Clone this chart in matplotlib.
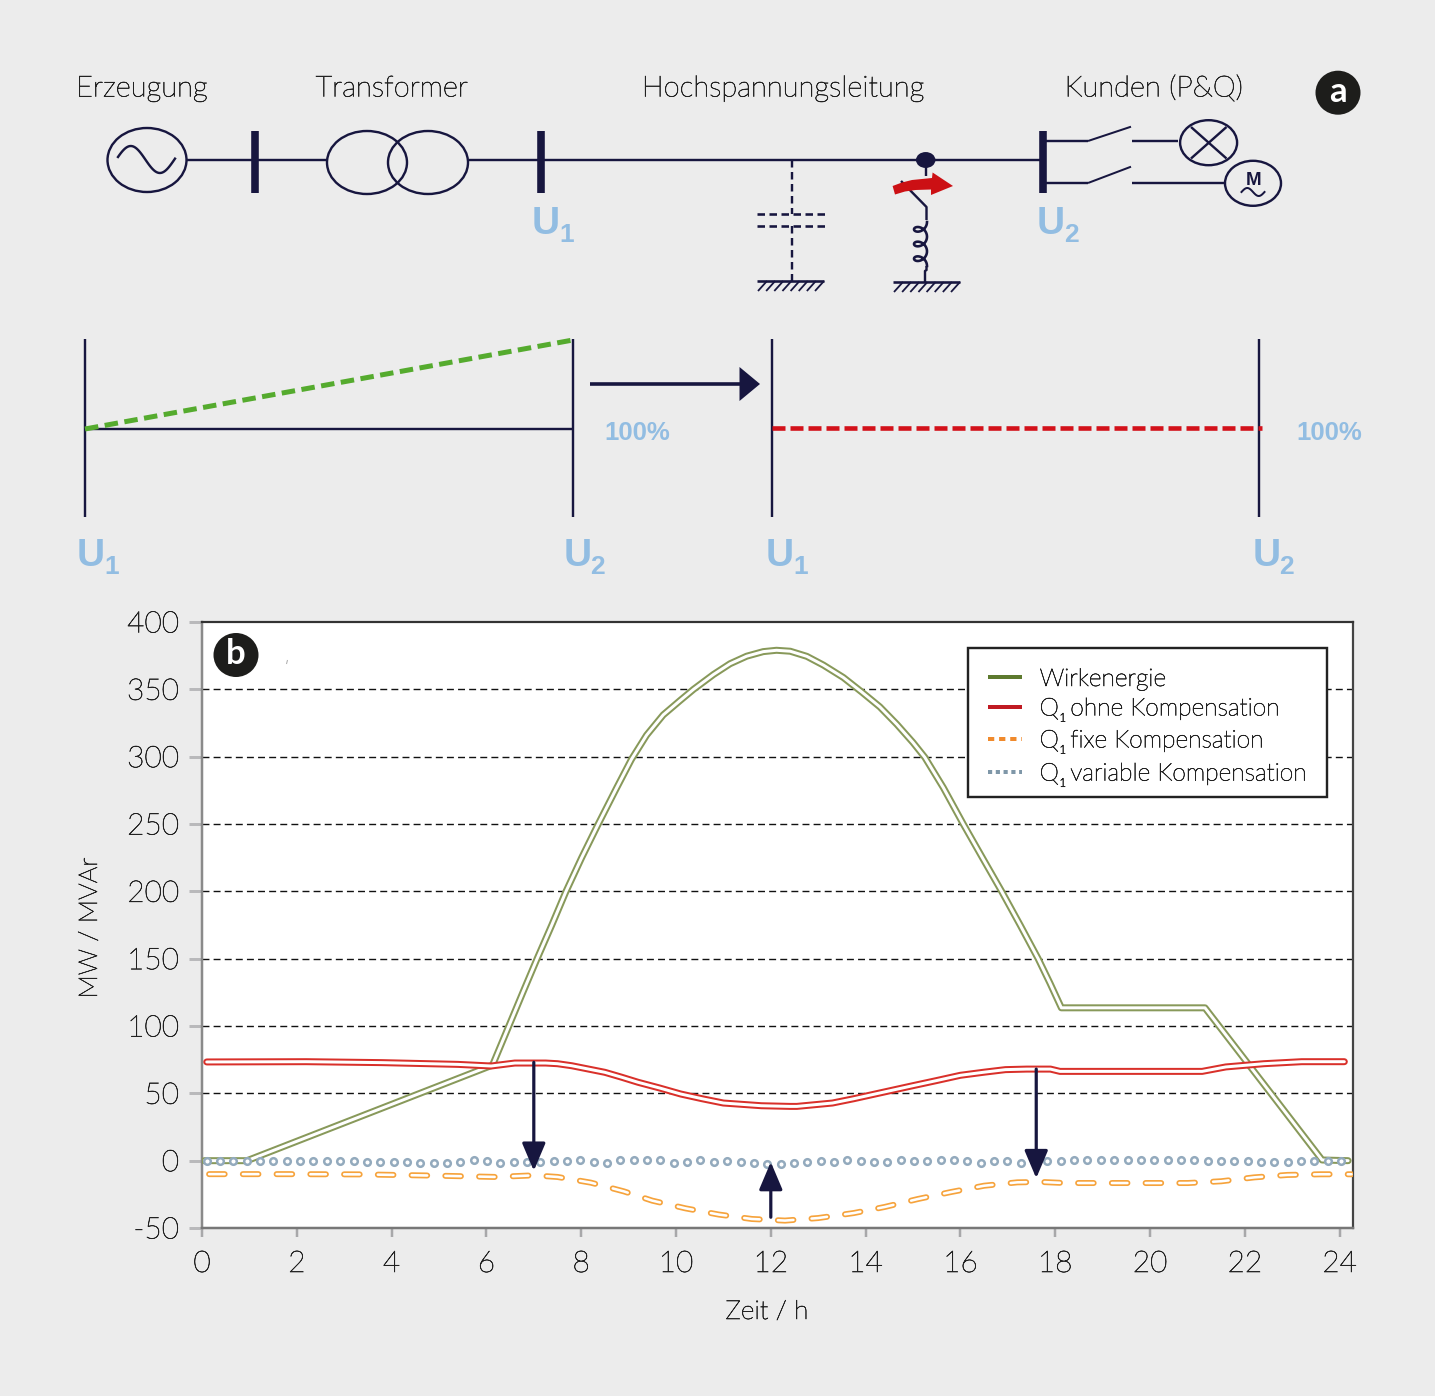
import numpy as np
from matplotlib import pyplot as plt
from matplotlib import patheffects
from matplotlib.lines import Line2D
from matplotlib.patches import Ellipse, Polygon, Rectangle
from matplotlib.text import Text

plt.rcParams['font.family'] = ['Lato', 'DejaVu Sans']
plt.rcParams['font.weight'] = 'light'
plt.rcParams['axes.labelweight'] = 'light'
plt.rcParams['axes.unicode_minus'] = False
plt.rcParams['mathtext.default'] = 'regular'
plt.rcParams['lines.scale_dashes'] = False

# chart data
green_h = [0.05, 0.95, 6.13, 6.45, 6.77, 7.07, 7.38, 7.68, 8.01, 8.36, 8.75, 9.06, 9.38, 9.73, 10.08, 10.37, 10.79,
           11.14, 11.49, 11.84, 12.12, 12.41, 12.76, 13.11, 13.53, 13.92, 14.3, 14.66, 15.0, 15.25, 15.64, 16.06,
           16.48, 16.87, 17.26, 17.64, 17.89, 18.13, 21.16, 22.55, 23.63, 24.18]
green_val = [0, 0, 71, 98, 125, 150, 175, 200, 225, 250, 277, 298, 316, 331, 341.5, 350, 361,
             369, 374.6, 378, 379, 378.3, 374.5, 368, 358.8, 348, 337, 324, 310.5, 299.5, 277, 250,
             224, 200, 175, 150, 131.8, 113.5, 113.5, 50, 0.5, 0]

red_h = [0.1, 2.2, 3.8, 5.4, 6.1, 6.6, 7.25, 7.5, 7.8, 8.5, 8.85, 9.2, 9.65, 10.1, 10.55, 11, 11.4, 11.8, 12.4, 12.55,
         13.3, 13.75, 14.2, 14.6, 15, 15.5, 16, 16.5, 16.95, 17.4, 17.9, 18.1, 21.1, 21.6, 22.4, 23.2, 24.1]
red_val = [73.3, 73.5, 72.8, 71.5, 70.3, 72.5, 72.5, 72, 70.5, 65.6, 62, 58.2, 54, 49.5, 46, 42.8, 41.8, 40.8, 40.3,
           40.3, 42.8, 46, 49.5, 52.6, 55.7, 59.5, 63.4, 65.7, 67.6, 68, 68, 66.3, 66.3, 69.6, 72, 73.5, 73.5]

orange_h = [0.15, 1.8, 3.4, 4.9, 6.2, 7.0, 7.5, 8.2, 8.9, 9.5, 10.2, 10.9, 11.6, 12.3, 13.0, 13.75, 14.4, 15.1,
            15.8, 16.5, 17.2, 17.7, 18.2, 20.8, 21.5, 22.2, 22.9, 23.6, 24.25]
orange_val = [-10, -10, -10.2, -11.1, -12.1, -10.9, -12.1, -16.3, -22.8, -29.7, -35.4, -40, -43.3, -44.5, -42.6,
              -38.9, -34.4, -28.5, -23.3, -18.6, -16.1, -15.8, -16.6, -16.6, -15.3, -12.4, -10.6, -10.1, -10.1]

# one value per dot, the dots are evenly spaced from 0.1 h to 24.03 h
blue_val = [-0.2, -0.2, -0.2, -0.2, -0.2, -0.2, -0.2, -0.2, -0.5, -0.5, -0.5, -0.5, -0.7, -1, -1.2, -1.2, -1.5,
            -1.7, -2, -1, 0.2, 0, -1.5, -1.2, -1.2, -1, 0, -0.5, 0.2, -1, -1.7, 0.2, 0.2, 0.2, 0.2, -1.5, -0.7, 0.2,
            -0.7, 0, -0.7, -1.7, -2.2, -2.5, -1.7, -1.2, -0.2, -0.7, 0.2, -0.5, -1, -1, 0.2, -0.2, -0.5, 0.5, 0.5,
            -0.5, -1.7, -0.5, -0.5, -1.5, -0.5, -0.5, 0, 0.2, 0.2, 0.2, 0.2, 0.2, 0.2, 0.2, 0.2, 0.2, 0.2, 0,
            -0.5, -0.5, -0.5, -1, -1, -0.7, -0.5, -0.2, 0, 0]
blue_h = np.linspace(0.1, 24.03, len(blue_val))

x_ticks = [0, 2, 4, 6, 8, 10, 12, 14, 16, 18, 20, 22, 24]
y_ticks = [-50, 0, 50, 100, 150, 200, 250, 300, 350, 400]
grid_levels = [50, 100, 150, 200, 250, 300, 350]
# start and end of the three arrows (hour, from, to)
shift_arrows = [(7.0, 73, -7.5), (12.0, -42, -1), (17.6, 68, -13)]

labels = ['Wirkenergie', r'Q$_{_1}\!$ ohne Kompensation', r'Q$_{_1}\!$ fixe Kompensation',
          r'Q$_{_1}\!$ variable Kompensation']

NAVY = '#17163f'
BLUE_TXT = '#92bde2'
BG = '#ececec'
W, H = 1435, 1396
AX_W, AX_H = 1353 - 202, 1228 - 622


def px(w):
    # pixel width to points at dpi 100
    return w * 0.72


fig = plt.figure(figsize=(W / 100, H / 100), dpi=100, facecolor=BG)

# ---- chart b ----
ax = fig.add_axes([202 / W, 1 - 1228 / H, AX_W / W, AX_H / H], facecolor='white')
ax.set_xlim(0, AX_W / 47.4)
ax.set_ylim(-50, 400)
ax.hlines(grid_levels, 0, 25, color='#111111', lw=px(1.4), linestyle=(0, (5, 3)), zorder=1)


def double_line(x, y, color):
    ax.plot(x, y, color=color, lw=px(7), solid_capstyle='round', solid_joinstyle='round', zorder=3)
    ax.plot(x, y, color='white', lw=px(3), solid_capstyle='round', solid_joinstyle='round', zorder=3)


double_line(green_h, green_val, '#88995a')
double_line(red_h, red_val, '#d9302a')

ax.plot(orange_h, orange_val, color='#f6a33c', lw=px(6), linestyle=(0, (11.2, 13.1)),
        dash_capstyle='round', zorder=3)
ax.plot(orange_h, orange_val, color='white', lw=px(2.6), linestyle=(0, (11.2, 13.1)),
        dash_capstyle='round', zorder=3)
ax.plot(blue_h, blue_val, linestyle='none', marker='o', ms=px(6.6), mfc='white', mec='#93aabd', mew=px(2.5), zorder=3)

for hour, start, end in shift_arrows:
    ax.annotate('', xy=(hour, end), xytext=(hour, start), zorder=4,
                arrowprops=dict(arrowstyle='-|>,head_length=0.85,head_width=0.36', color=NAVY, lw=px(3.2),
                                shrinkA=0, shrinkB=0, mutation_scale=20))

ax.set_xticks(x_ticks)
ax.set_yticks(y_ticks)
ax.tick_params(axis='y', length=px(13), width=px(3), color='#b9b9bb', labelsize=21.5, labelcolor='#222222', pad=px(10))
ax.tick_params(axis='x', length=px(9), width=px(2.5), color='#a8a8aa', labelsize=21.5, labelcolor='#222222', pad=px(14))
ax.spines['left'].set(color='#8a8a8a', lw=px(2.5))
ax.spines['bottom'].set(color='#777777', lw=px(2.5))
ax.spines['top'].set(color='#333333', lw=px(2.2))
ax.spines['right'].set(color='#444444', lw=px(2.2))
ax.set_xlabel('Zeit / h', fontsize=18.8, color='#222222', va='center')
ax.set_ylabel('MW / MVAr', fontsize=18.8, color='#222222', va='center')
ax.xaxis.set_label_coords((767 - 202) / AX_W, (1228 - 1312) / AX_H)
ax.yaxis.set_label_coords((90 - 202) / AX_W, (1228 - 928) / AX_H)

# legend box is drawn apart so that the rows sit where they do in the picture
ax.add_patch(Rectangle(((968 - 202) / AX_W, (1228 - 797) / AX_H), (1327 - 968) / AX_W, (797 - 648) / AX_H,
                       transform=ax.transAxes, fc='white', ec='#222222', lw=px(2.4), zorder=4.5))
handles = [Line2D([], [], color='#5d7a2e', lw=px(4), solid_capstyle='butt'),
           Line2D([], [], color='#c01a22', lw=px(4), solid_capstyle='butt'),
           Line2D([], [], color='#f08a2c', lw=px(4), linestyle=(0, (4.5, 3.5))),
           Line2D([], [], color='#7f97a8', lw=px(4), linestyle=(0, (3, 2.6)))]
leg = ax.legend(handles, labels, loc='upper left', bbox_to_anchor=((988 - 202) / AX_W, (1228 - 667) / AX_H),
                borderaxespad=0, borderpad=0, fontsize=17.7, labelcolor='#222222', frameon=False,
                handlelength=1.38, handletextpad=0.72, labelspacing=0.14)
leg.set_zorder(5)

# ---- overlay in picture pixels, schematic a and the badges ----
ov = fig.add_axes([0, 0, 1, 1], zorder=5)
ov.set_xlim(0, W)
ov.set_ylim(H, 0)
ov.axis('off')


def seg(xs, ys, lw=2.4, color=NAVY, **kw):
    ov.plot(xs, ys, color=color, lw=px(lw), solid_capstyle='butt', **kw)


def oval(cx, cy, w, h, lw=2.4, **kw):
    kw.setdefault('fc', 'none')
    ov.add_patch(Ellipse((cx, cy), w, h, ec=NAVY, lw=px(lw), **kw))


def ground(x0, x1, y):
    seg([x0, x1], [y, y], lw=2.6)
    for xt in np.linspace(x0 + 10, x1, 8):
        seg([xt, xt - 9], [y, y + 10], lw=1.8)


# headings
for txt, xc in [('Erzeugung', 141.5), ('Transformer', 391.5), ('Hochspannungsleitung', 782.5), ('Kunden (P&Q)', 1153.5)]:
    ov.text(xc, 96.5, txt, ha='center', va='baseline', fontsize=21, color='#222222')

# main bus
seg([186, 327], [160, 160])
seg([469, 1043], [160, 160])
for xb in [255, 541, 1043]:
    seg([xb, xb], [131, 193], lw=7.6)

# generator
oval(147, 160, 79, 64)
t = np.linspace(0, 1, 50)
ov.plot(118 + 57 * t, 159.5 - 13.5 * np.sin(2 * np.pi * (t * 0.98 + 0.03)), color=NAVY, lw=px(2.4))

# transformer
oval(367, 162.5, 80, 63)
oval(428, 162.5, 80, 63)

# capacitor
dash = (0, (px(7.5), px(4.5)))
ov.plot([792, 792], [160, 214], color=NAVY, lw=px(2.4), linestyle=dash)
ov.plot([792, 792], [226, 281], color=NAVY, lw=px(2.4), linestyle=dash)
ov.plot([757, 825], [214, 214], color=NAVY, lw=px(2.6), linestyle=dash)
ov.plot([757, 825], [226, 226], color=NAVY, lw=px(2.6), linestyle=dash)
ground(757, 824, 281)

# tapped reactor
oval(925.7, 160, 17, 13.5, fc=NAVY)
seg([926, 926], [160, 176])
seg([901, 926.5, 926.5], [181, 207, 220])
t = np.linspace(0, 3 * 2 * np.pi, 200)
ov.plot(920.5 + 6.5 * np.cos(t), 222 + 44 * t / t[-1] + 5.5 * np.sin(t), color=NAVY, lw=px(2.6))
seg([926.5, 926.5, 925, 925], [266, 270, 271, 282])
ground(893, 960, 282)
ov.add_patch(Polygon([(892.6, 186), (902, 182.5), (912, 180), (932, 178), (932.6, 172.5), (953, 186),
                      (931, 195), (931, 189.5), (915.5, 190), (905, 191.5), (895, 194.5)], fc='#cc1014', ec='none',
                     zorder=3))

# loads
seg([1043, 1088], [141, 141])
seg([1088, 1131], [141, 126.7], lw=2)
seg([1132, 1177.5], [141, 141])
seg([1043, 1088], [183, 183])
seg([1088, 1131], [183, 166.7], lw=2)
seg([1132, 1223.5], [183, 183])
oval(1208.6, 142.7, 57, 45)
seg([1191, 1226.5], [127, 158.5])
seg([1191, 1226.5], [158.5, 127])
oval(1253, 183.3, 56, 45)
ov.text(1254, 185, 'M', ha='center', va='baseline', fontsize=13.5, weight='bold', family='Liberation Sans', color=NAVY)
t = np.linspace(0, 1, 40)
ov.plot(1241.5 + 23 * t, 192 - 4 * np.sin(2 * np.pi * t), color=NAVY, lw=px(2))

# voltage profile
for xv in [85, 573, 772, 1259]:
    seg([xv, xv], [339, 517])
seg([85, 573], [428.5, 428.5])
ov.plot([85, 573], [429, 340], color='#55ab2e', lw=px(5), linestyle=(0, (px(13.5), px(6.5))))
ov.plot([772, 1262], [428, 428], color='#d3111a', lw=px(4.6), linestyle=(0, (px(13), px(5))))
seg([590, 741], [384, 384], lw=3.6)
ov.add_patch(Polygon([(739.5, 367), (760, 384), (739.5, 401)], fc=NAVY, ec='none'))

# blue labels, letter and index apart since the index hangs low
u_labels = [('U', '1', 532, 234), ('U', '2', 1037, 234), ('U', '1', 77, 566), ('U', '2', 563.5, 566),
            ('U', '1', 766, 566), ('U', '2', 1252.5, 566)]
for letter, idx, xu, yu in u_labels:
    ov.text(xu, yu, letter, fontsize=28, weight='bold', family='Liberation Sans', color=BLUE_TXT, va='baseline')
    ov.text(xu + 27, yu + 8, idx, fontsize=19, weight='bold', family='Liberation Sans', color=BLUE_TXT, va='baseline')
for xp in [604, 1296]:
    ov.text(xp, 440, '100%', fontsize=18.5, weight='bold', family='Liberation Sans', color=BLUE_TXT, va='baseline')

# badges
for txt, xc, yc in [('a', 1338, 92.7), ('b', 236, 655)]:
    ov.add_patch(Ellipse((xc, yc), 45, 44, fc='#1d1d1b', ec='none'))
    ov.text(xc, yc + 9, txt, ha='center', va='baseline', fontsize=25, weight='bold', color='white')
seg([286.5, 287.5], [664, 660], lw=1, color='#aaaaaa')

# Lato Light comes out paler than the picture, give the light text a hair of stroke
for item in fig.findobj(Text):
    if item.get_fontweight() in ('light', 300):
        item.set_path_effects([patheffects.withStroke(linewidth=0.45, foreground=item.get_color())])

fig.savefig('out.png', dpi=100, facecolor=BG)
